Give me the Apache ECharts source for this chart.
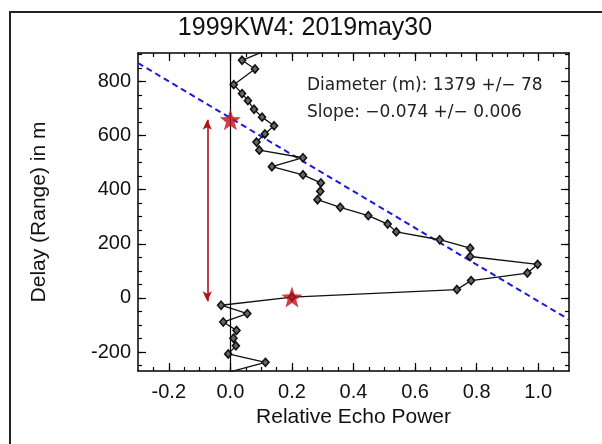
<!DOCTYPE html>
<html>
<head>
<meta charset="utf-8">
<script src="https://cdn.jsdelivr.net/npm/echarts@6/dist/echarts.min.js"></script>
<style>html,body{margin:0;padding:0;background:#fff}#c{width:602px;height:444px}</style>
</head>
<body>
<div id="c"></div>
<script>
// Echo power profile (relative power, delay in m)
const power = [0.160, 0.038, 0.080, 0.011, 0.038, 0.057, 0.077, 0.103, 0.142, 0.112, 0.085, 0.094, 0.236, 0.135, 0.236, 0.294, 0.292, 0.283, 0.357, 0.448, 0.511, 0.539, 0.680, 0.779, 0.779, 0.998, 0.965, 0.782, 0.736, 0.200, -0.030, 0.055, -0.023, 0.020, 0.010, 0.018, -0.007, 0.114, -0.010];
const delay = [935, 878, 846, 788, 755, 729, 697, 668, 636, 606, 576, 546, 518, 485, 455, 425, 394, 363, 335, 304, 273, 244, 215, 184, 153, 124, 92, 64, 31, 3, -27, -58, -89, -120, -149, -177, -207, -238, -276];
// Fitted slope line endpoints
const fitPower = [-0.3, 1.1];
const fitDelay = [868, -80];
// Star markers (leading edge and limb)
const starPower = [0.0, 0.2];
const starDelay = [658, 3];
// Double arrow (radius extent)
const arrowPower = [-0.075, -0.075];
const arrowDelay = [-12, 658];
// Axis ranges & ticks
const xRange = [-0.3, 1.1];
const yRange = [-270, 905];
const xMajor = [-0.2, 0.0, 0.2, 0.4, 0.6, 0.8, 1.0];
const xMinor = [-0.25, -0.2, -0.15, -0.1, -0.05, 0, 0.05, 0.1, 0.15, 0.2, 0.25, 0.3, 0.35, 0.4, 0.45, 0.5, 0.55, 0.6, 0.65, 0.7, 0.75, 0.8, 0.85, 0.9, 0.95, 1.0, 1.05];
const yMajor = [-200, 0, 200, 400, 600, 800];
const yMinor = [-250, -200, -150, -100, -50, 0, 50, 100, 150, 200, 250, 300, 350, 400, 450, 500, 550, 600, 650, 700, 750, 800, 850, 900];
const titleText = '1999KW4: 2019may30';
const note1 = 'Diameter (m): 1379 +/\u2212 78';
const note2 = 'Slope: \u22120.074 +/\u2212 0.006';

const FONT = 'Liberation Sans, Arial, Helvetica, sans-serif';
const chart = echarts.init(document.getElementById('c'), null, {renderer: 'canvas'});

function xAx(pos, major, withLabel) {
  return {
    type: 'value', position: pos, min: xRange[0], max: xRange[1],
    splitLine: {show: false},
    axisLine: {show: major, onZero: false, lineStyle: {color: '#000', width: 1.5}},
    axisTick: {show: true, inside: true, length: major ? 8 : 4, customValues: major ? xMajor : xMinor, lineStyle: {color: '#000', width: 1.2}},
    axisLabel: withLabel ? {show: true, customValues: xMajor, formatter: v => v.toFixed(1), fontSize: 20, color: '#111', fontFamily: FONT, margin: 11} : {show: false},
    name: withLabel ? 'Relative Echo Power' : '',
    nameLocation: 'middle', nameGap: 36,
    nameTextStyle: {fontSize: 21, color: '#111', fontFamily: FONT}
  };
}
function yAx(pos, major, withLabel) {
  return {
    type: 'value', position: pos, min: yRange[0], max: yRange[1],
    splitLine: {show: false},
    axisLine: {show: major, onZero: false, lineStyle: {color: '#000', width: 1.5}},
    axisTick: {show: true, inside: true, length: major ? 8 : 4, customValues: major ? yMajor : yMinor, lineStyle: {color: '#000', width: 1.2}},
    axisLabel: withLabel ? {show: true, customValues: yMajor, formatter: v => String(Math.round(v)), fontSize: 20, color: '#111', fontFamily: FONT, margin: 7} : {show: false},
    name: withLabel ? 'Delay (Range) in m' : '',
    nameLocation: 'middle', nameGap: 88,
    nameTextStyle: {fontSize: 21, color: '#111', fontFamily: FONT}
  };
}

const profile = power.map((p, i) => [p, delay[i]]);
const fit = fitPower.map((p, i) => [p, fitDelay[i]]);
const stars = starPower.map((p, i) => [p, starDelay[i]]);

chart.setOption({
  animation: false,
  backgroundColor: '#fff',
  grid: {left: 138, right: 33, top: 53, bottom: 73, containLabel: false},
  xAxis: [xAx('bottom', true, true), xAx('bottom', false, false), xAx('top', true, false), xAx('top', false, false)],
  yAxis: [yAx('left', true, true), yAx('left', false, false), yAx('right', true, false), yAx('right', false, false)],
  graphic: [
    {type: 'rect', shape: {x: 10, y: 12, width: 640, height: 480}, style: {fill: 'none', stroke: '#222', lineWidth: 2}, silent: true},
    {type: 'text', x: 305, y: 28, style: {text: titleText, font: '25px ' + FONT, fill: '#111', align: 'center', verticalAlign: 'middle'}},
    {type: 'text', x: 307, y: 86, style: {text: note1, font: '17px DejaVu Sans', fill: '#222', align: 'left', verticalAlign: 'middle'}},
    {type: 'text', x: 307, y: 113, style: {text: note2, font: '17px DejaVu Sans', fill: '#222', align: 'left', verticalAlign: 'middle'}}
  ],
  series: [
    {
      type: 'line', data: [], xAxisIndex: 0, yAxisIndex: 0, silent: true,
      markLine: {
        silent: true, symbol: ['none', 'none'], label: {show: false},
        lineStyle: {color: '#000', width: 1.2, type: 'solid'},
        data: [{xAxis: 0}]
      }
    },
    {
      type: 'line', data: fit, xAxisIndex: 0, yAxisIndex: 0, silent: true,
      symbol: 'none', lineStyle: {color: '#1a1adc', width: 2, type: [6, 4]}, clip: true
    },
    {
      type: 'line', data: profile, xAxisIndex: 0, yAxisIndex: 0, silent: true,
      symbol: 'diamond', symbolSize: [7, 8], clip: true,
      lineStyle: {color: '#111', width: 1.3},
      itemStyle: {color: '#666', borderColor: '#111', borderWidth: 1.6}
    },
    {
      type: 'line', data: [], xAxisIndex: 0, yAxisIndex: 0, silent: true,
      markLine: {
        silent: true, symbol: ['arrow', 'arrow'], symbolSize: [7, 10], label: {show: false},
        lineStyle: {color: '#b0121b', width: 1.6, type: 'solid'},
        data: [[{coord: [arrowPower[0], arrowDelay[0]]}, {coord: [arrowPower[1], arrowDelay[1]]}]]
      }
    },
    {
      type: 'scatter', data: stars, xAxisIndex: 0, yAxisIndex: 0, silent: true,
      symbol: 'path://M50,0 L62.5,34 L99,35.5 L70,58 L80.5,93 L50,73 L19.5,93 L30,58 L1,35.5 L37.5,34 Z',
      symbolSize: 21, itemStyle: {color: '#c0101a'}, z: 10
    }
  ]
});
</script>
</body>
</html>
